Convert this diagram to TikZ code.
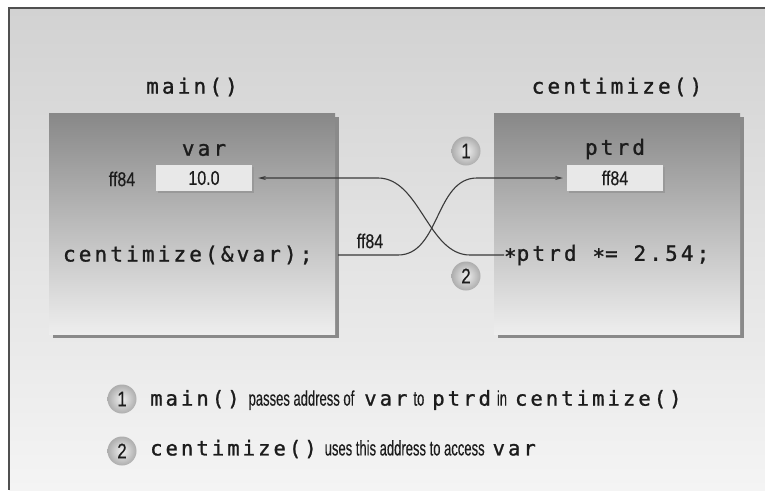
\documentclass[tikz,border=0pt]{standalone}
\usepackage{fontspec}
\usetikzlibrary{shadows,arrows.meta}
\newfontfamily\codefont[LetterSpace=15,FakeBold=1.2]{DejaVu Sans Mono}
\newfontfamily\condfont[FakeStretch=0.8,FakeBold=0.4]{Liberation Sans}
\newfontfamily\narrowfont[FakeStretch=0.62,FakeBold=0.3]{Liberation Sans}
\definecolor{bgtop}{HTML}{D2D2D2}
\definecolor{bgbot}{HTML}{F4F4F4}
\definecolor{frame}{HTML}{505050}
\definecolor{boxtop}{HTML}{888888}
\definecolor{boxbot}{HTML}{EEEEEE}
\definecolor{shadowcol}{HTML}{8A8A8A}
\definecolor{valfill}{HTML}{E8E8E8}
\definecolor{ink}{HTML}{1C1C1C}
\definecolor{linecol}{HTML}{3A3A3A}
\definecolor{numin}{HTML}{F0F0F0}
\definecolor{numout}{HTML}{ADADAD}
\newcommand{\lc}[1]{{\codefont\fontsize{20.5}{20.5}\selectfont #1}}
\newcommand{\lt}[1]{{\narrowfont\fontsize{21}{21}\selectfont #1}}
\tikzset{
  code/.style={text=ink, inner sep=0pt, outer sep=0pt, font=\codefont\fontsize{21}{21}\selectfont},
  cond/.style={text=ink, inner sep=0pt, outer sep=0pt, font=\condfont\fontsize{20}{20}\selectfont},
  fbox/.style={rectangle, top color=boxtop, bottom color=boxbot, inner sep=0pt, outer sep=0pt,
    drop shadow={shadow xshift=3.5pt, shadow yshift=-3.5pt, fill=shadowcol, opacity=1}},
  valbox/.style={rectangle, fill=valfill, minimum width=96pt, minimum height=26pt, inner sep=0pt, outer sep=0pt,
    text=ink, font=\condfont\fontsize{20}{20}\selectfont,
    drop shadow={shadow xshift=1.5pt, shadow yshift=-1.5pt, fill=black!40, opacity=1}},
  conn/.style={draw=linecol, line width=1.1pt, -{Stealth[length=8pt,width=4pt]}},
  num/.style={circle, minimum size=29pt, inner sep=0pt, inner color=numin, outer color=numout,
    text=ink, font=\condfont\fontsize{21}{21}\selectfont},
}
\begin{document}
\begin{tikzpicture}[x=1pt,y=-1pt]
\useasboundingbox (0,0) rectangle (765,490);
\shade[top color=bgtop, bottom color=bgbot] (9,8) rectangle (765,490);
\draw[frame, line width=2pt] (765,8) -- (9,8) -- (9,490);

\node[code] (tmain) at (192,87) {main()};
\node[code] (tcent) at (617,87) {centimize()};

\node[fbox, minimum width=286pt, minimum height=221pt] (mainbox) at (192,224) {};
\node[fbox, minimum width=246pt, minimum height=221pt] (centbox) at (617,224) {};

\node[code] (varlbl) at (204,150) {var};
\node[valbox] (varbox) at (204,178) {10.0};
\node[cond] (addr) at (122,179) {ff84};
\node[code, anchor=west] (call) at (63,255) {centimize(\&var);};

\node[code] (ptrdlbl) at (615,149) {ptrd};
\node[valbox] (ptrdbox) at (615,178) {ff84};
\node[code, anchor=west] (deref) at (504,255) {\raisebox{-3pt}{*}ptrd \raisebox{-3pt}{*}= 2.54;};

\node[num] (n1) at (466,151) {\raisebox{-3pt}{1}};
\node[num] (n2) at (466,276) {\raisebox{-3pt}{2}};

\draw[conn, shorten >=4pt] ([xshift=3pt]mainbox.east |- call.center) -- (398,255)
  .. controls (440,255) and (435,178) .. (477,178) -- (ptrdbox.west);
\draw[conn, shorten >=6pt] (deref.west) -- (470,255)
  .. controls (428,255) and (420,178) .. (378,178) -- (varbox.east);
\node[cond] (lbl) at (370,241) {ff84};

\node[num] (l1) at (122,399) {\raisebox{-3pt}{1}};
\node[num] (l2) at (122,451) {\raisebox{-3pt}{2}};
\node[anchor=west, inner sep=0pt, text=ink] (leg1) at (150,400)
  {\lc{main()}\hspace{9pt}\lt{passes address of}\hspace{10pt}\lc{var}\hspace{6pt}\lt{to}\hspace{8pt}\lc{ptrd}\hspace{6pt}\lt{in}\hspace{8pt}\lc{centimize()}};
\node[anchor=west, inner sep=0pt, text=ink] (leg2) at (150,449)
  {\lc{centimize()}\hspace{8pt}\lt{uses this address to access}\hspace{8pt}\lc{var}};
\end{tikzpicture}
\end{document}
